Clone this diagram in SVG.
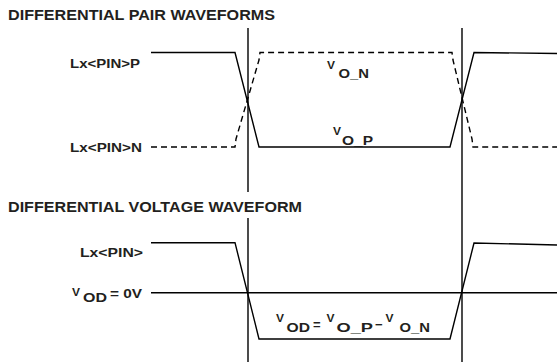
<svg xmlns="http://www.w3.org/2000/svg" width="557" height="362" viewBox="0 0 557 362">
<style>
text{font-family:"Liberation Sans",Arial,sans-serif;font-weight:bold;fill:#231f20}
.t{font-size:14px}
.l{font-size:12.5px}
.s{font-size:11px}
.m{font-size:13px}
.w{fill:none;stroke:#000;stroke-width:1.4}
.d{stroke-dasharray:6 4}
</style>
<rect width="557" height="362" fill="#fff"/>
<g id="titles">
<text class="t" x="8" y="20" textLength="267" lengthAdjust="spacingAndGlyphs">DIFFERENTIAL PAIR WAVEFORMS</text>
<text class="t" x="8" y="212" textLength="294" lengthAdjust="spacingAndGlyphs">DIFFERENTIAL VOLTAGE WAVEFORM</text>
</g>
<g id="labels">
<text class="l" x="70" y="68" textLength="70" lengthAdjust="spacingAndGlyphs">Lx&lt;PIN&gt;P</text>
<text class="l" x="70" y="151.5" textLength="72" lengthAdjust="spacingAndGlyphs">Lx&lt;PIN&gt;N</text>
<text class="l" x="80" y="256.5" textLength="63" lengthAdjust="spacingAndGlyphs">Lx&lt;PIN&gt;</text>
<g id="vod0">
<text class="s" x="72" y="295.5" textLength="8" lengthAdjust="spacingAndGlyphs">V</text>
<text class="m" x="83" y="301.7" textLength="24" lengthAdjust="spacingAndGlyphs">OD</text>
<text class="m" x="110" y="298.3" textLength="32" lengthAdjust="spacingAndGlyphs">= 0V</text>
</g>
<g id="von">
<text class="s" x="327" y="68.5" textLength="8" lengthAdjust="spacingAndGlyphs">V</text>
<text class="m" x="338.5" y="78" textLength="30.5" lengthAdjust="spacingAndGlyphs">O_N</text>
</g>
<g id="vop">
<text class="s" x="333" y="134.5" textLength="8" lengthAdjust="spacingAndGlyphs">V</text>
<text class="m" x="342" y="144.5" textLength="31" lengthAdjust="spacingAndGlyphs">O_P</text>
</g>
<g id="vod">
<text class="s" x="276" y="322" textLength="8" lengthAdjust="spacingAndGlyphs">V</text>
<text class="m" x="286.5" y="331.5" textLength="23.5" lengthAdjust="spacingAndGlyphs">OD</text>
<text class="m" x="313" y="328.5">=</text>
<text class="s" x="326.5" y="322" textLength="8" lengthAdjust="spacingAndGlyphs">V</text>
<text class="m" x="336.5" y="331.5" textLength="36.5" lengthAdjust="spacingAndGlyphs">O_P</text>
<text class="m" x="375" y="328.5">−</text>
<text class="s" x="385.5" y="322" textLength="8" lengthAdjust="spacingAndGlyphs">V</text>
<text class="m" x="399.5" y="331.5" textLength="30.5" lengthAdjust="spacingAndGlyphs">O_N</text>
</g>
</g>
<g id="connectors">
<path class="w" d="M248,28 V192 M248,218 V362 M462,28 V362"/>
<path id="p" class="w" d="M151,52.5 H235 L259,147 H450 L474,52.5 L557,53.5"/>
<path id="n" class="w d" d="M151,147 H235 L236,139 L259,60 L260,52.5 H452 L453,60 L472,139 L473,147 H557"/>
<path id="diff" class="w" d="M151,242.7 H235 L259,339 H450 L474,243 L557,245"/>
<path id="zero" class="w" d="M151,292.7 H557"/>
</g>
</svg>
